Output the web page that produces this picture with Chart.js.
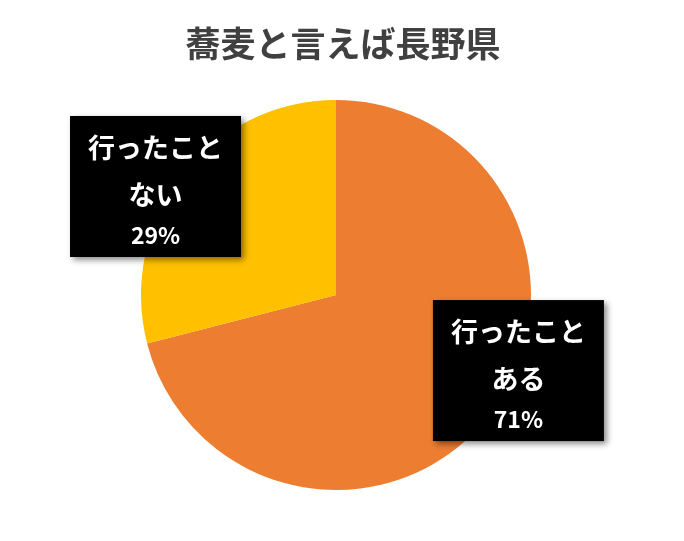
<!DOCTYPE html>
<html>
<head>
<meta charset="utf-8">
<script src="https://cdn.jsdelivr.net/npm/chart.js@4"></script>
<style>
  html, body { margin:0; padding:0; background:#fff; }
  #wrap { width:684px; height:541px; }
</style>
</head>
<body>
<div id="wrap"><canvas id="pieChart"></canvas></div>
<script>
// data
const title = '蕎麦と言えば長野県';
const labels = [['行ったこと', 'ある'], ['行ったこと', 'ない']];
const values = [71, 29];
const colors = ['#ED7D31', '#FFC000'];
// label box top-left, relative to pie center in radius units
const boxAnchors = [[0.497, 0.026], [-1.364, -0.918]];

const FONT = '"Noto Sans CJK JP", "Noto Sans", sans-serif';

// title centered on the whole canvas
const titlePlugin = {
  id: 'pageTitle',
  afterDraw(chart) {
    const ctx = chart.ctx;
    ctx.save();
    ctx.fillStyle = '#404040';
    ctx.font = 'bold 35px ' + FONT;
    ctx.textAlign = 'center';
    ctx.textBaseline = 'middle';
    ctx.fillText(title, chart.width / 2 + 1, 44);
    ctx.restore();
  }
};

// black callout boxes with shadow
const calloutPlugin = {
  id: 'callouts',
  afterDatasetsDraw(chart) {
    const ctx = chart.ctx;
    const meta = chart.getDatasetMeta(0);
    const total = values.reduce((a, b) => a + b, 0);
    meta.data.forEach((arc, i) => {
      const r = arc.outerRadius;
      const x = arc.x + boxAnchors[i][0] * r;
      const y = arc.y + boxAnchors[i][1] * r;
      const w = 171, h = 141;
      ctx.save();
      ctx.shadowColor = 'rgba(0,0,0,0.45)';
      ctx.shadowBlur = 6;
      ctx.shadowOffsetX = 3;
      ctx.shadowOffsetY = 3;
      ctx.fillStyle = '#000';
      ctx.fillRect(x, y, w, h);
      ctx.restore();

      ctx.save();
      ctx.fillStyle = '#fff';
      ctx.textAlign = 'center';
      ctx.textBaseline = 'middle';
      ctx.font = 'bold 27px ' + FONT;
      ctx.fillText(labels[i][0], x + w / 2, y + 32);
      ctx.fillText(labels[i][1], x + w / 2, y + 79);
      ctx.font = 'bold 23px ' + FONT;
      const pct = Math.round(values[i] / total * 100) + '%';
      ctx.fillText(pct, x + w / 2, y + 119);
      ctx.restore();
    });
  }
};

const ctx = document.getElementById('pieChart').getContext('2d');
new Chart(ctx, {
  type: 'pie',
  data: {
    labels: labels.map(l => l.join('')),
    datasets: [{ data: values, backgroundColor: colors, borderWidth: 0 }]
  },
  options: {
    responsive: true,
    maintainAspectRatio: false,
    animation: false,
    layout: { padding: { top: 100, bottom: 51, left: 0, right: 12 } },
    plugins: {
      legend: { display: false },
      tooltip: { enabled: false },
      title: { display: false }
    }
  },
  plugins: [calloutPlugin, titlePlugin]
});
</script>
</body>
</html>
